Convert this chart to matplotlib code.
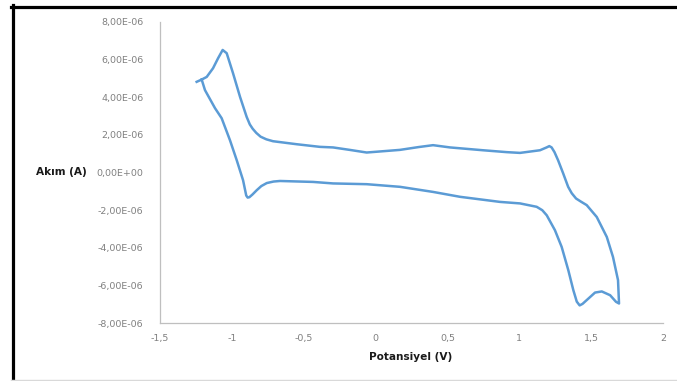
import numpy as np
import matplotlib.pyplot as plt
from matplotlib.lines import Line2D
from matplotlib.ticker import FuncFormatter

# potential (V) and current (uA), in drawing order
potential = [-1.245, -1.210, -1.175, -1.131, -1.096, -1.064, -1.036, -0.992, -0.943, -0.897,
             -0.875, -0.855, -0.830, -0.800, -0.760, -0.714, -0.549, -0.387, -0.296, -0.180,
             -0.062, 0.170, 0.300, 0.400, 0.518, 0.748, 0.913, 1.005, 1.144, 1.190,
             1.209, 1.225, 1.245, 1.270, 1.305, 1.340, 1.365, 1.395, 1.430, 1.469,
             1.539, 1.609, 1.652, 1.687, 1.694, 1.673, 1.632, 1.574, 1.527, 1.469,
             1.440, 1.420, 1.400, 1.376, 1.341, 1.295, 1.248, 1.191, 1.160, 1.121,
             1.005, 0.866, 0.588, 0.400, 0.170, -0.062, -0.296, -0.435, -0.665, -0.710,
             -0.757, -0.795, -0.827, -0.857, -0.878, -0.890, -0.900, -0.922, -0.966, -1.013,
             -1.071, -1.117, -1.187, -1.210]
current_uA = [4.81, 4.93, 5.07, 5.53, 6.06, 6.50, 6.33, 5.27, 4.01, 2.95,
              2.55, 2.32, 2.10, 1.90, 1.76, 1.66, 1.50, 1.36, 1.33, 1.20,
              1.06, 1.20, 1.35, 1.45, 1.33, 1.18, 1.08, 1.04, 1.18, 1.33,
              1.40, 1.33, 1.08, 0.65, -0.04, -0.76, -1.10, -1.38, -1.55, -1.73,
              -2.36, -3.42, -4.48, -5.71, -6.95, -6.86, -6.51, -6.31, -6.37, -6.77,
              -6.97, -7.05, -6.85, -6.24, -5.18, -3.95, -3.06, -2.27, -2.00, -1.82,
              -1.64, -1.56, -1.29, -1.03, -0.76, -0.62, -0.58, -0.50, -0.45, -0.48,
              -0.56, -0.72, -0.94, -1.17, -1.31, -1.33, -1.22, -0.41, 0.65, 1.71,
              2.88, 3.41, 4.37, 4.93]

x_ticks = [-1.5, -1, -0.5, 0, 0.5, 1, 1.5, 2]
y_ticks = [-8e-6, -6e-6, -4e-6, -2e-6, 0, 2e-6, 4e-6, 6e-6, 8e-6]

x = np.array(potential)
y = np.array(current_uA) * 1e-6

fig = plt.figure(figsize=(6.77, 3.81), dpi=100)
ax = fig.add_axes([160/677, 1 - 323.3/381, (663 - 160)/677, (323.3 - 21.7)/381])

ax.plot(x, y, color='#5B9BD5', linewidth=1.8, solid_joinstyle='round')

ax.set_xlim(-1.5, 2)
ax.set_ylim(-8e-6, 8e-6)
ax.set_xticks(x_ticks)
ax.set_yticks(y_ticks)


def fmt_x(v, pos):
    s = ('%g' % v).replace('.', ',')
    return s


def fmt_y(v, pos):
    s = '%.2E' % v
    return s.replace('.', ',')


ax.xaxis.set_major_formatter(FuncFormatter(fmt_x))
ax.yaxis.set_major_formatter(FuncFormatter(fmt_y))
ax.tick_params(length=0, labelsize=6.8, labelcolor='#808080')
ax.tick_params(axis='x', pad=8)
ax.tick_params(axis='y', pad=12)

for side in ['top', 'right']:
    ax.spines[side].set_visible(False)
for side in ['left', 'bottom']:
    ax.spines[side].set_color('#BFBFBF')
    ax.spines[side].set_linewidth(0.9)

fig.text(86.7/677, 1 - 172.3/381, 'Akım (A)', ha='right', va='center',
         fontsize=7.6, fontweight='bold', color='#1a1a1a')
fig.text(411/677, 1 - 357.3/381, 'Potansiyel (V)', ha='center', va='center',
         fontsize=7.6, fontweight='bold', color='#1a1a1a')

# chart border as in the screenshot
fig.add_artist(Line2D([11/677, 1], [1 - 6.5/381, 1 - 6.5/381], transform=fig.transFigure,
                      color='black', linewidth=2.3))
fig.add_artist(Line2D([12.5/677, 12.5/677], [0, 1 - 5/381], transform=fig.transFigure,
                      color='black', linewidth=2.3))
fig.add_artist(Line2D([11/677, 1], [0.8/381, 0.8/381], transform=fig.transFigure,
                      color='#D9D9D9', linewidth=1))

plt.savefig('out.png', dpi=100)
